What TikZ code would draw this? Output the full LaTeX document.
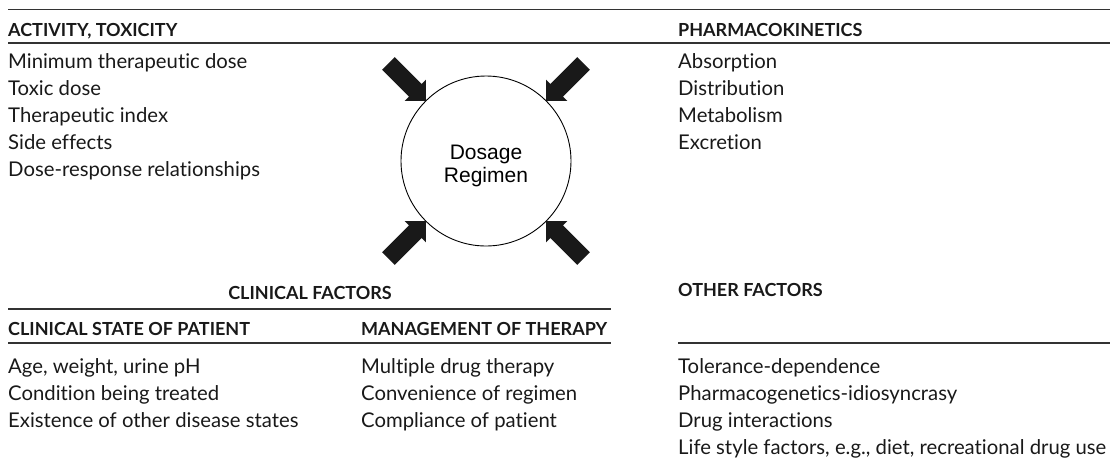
\documentclass[tikz,border=0pt]{standalone}
\usepackage{fontspec}
\setmainfont[Ligatures=NoCommon]{Lato}
\newfontfamily\helv{Liberation Sans}
\begin{document}
\begin{tikzpicture}[x=1pt,y=-1pt,
  rule/.style={line width=1.3pt, draw=black!80},
  head/.style={font=\fontsize{18}{20}\selectfont\bfseries, inner sep=0pt, anchor=base west, text=black!90},
  item/.style={font=\fontsize{20.3}{22}\selectfont, inner sep=0pt, anchor=base west, text=black!90},
  blockarrow/.style={fill=black!90, draw=none},
  hub/.style={circle, draw=black, line width=0.9pt, minimum size=170pt, inner sep=0pt},
  hublabel/.style={align=center, inner sep=0pt, font=\helv\fontsize{21}{23}\selectfont}]
\useasboundingbox (0,0) rectangle (1112,459);

% rules
\coordinate (r1a) at (8,9.5);   \coordinate (r1b) at (1110,9.5);
\coordinate (r2a) at (8,43);    \coordinate (r2b) at (1110,43);
\coordinate (r3a) at (8,309);   \coordinate (r3b) at (611,309);
\coordinate (r4a) at (8,343);   \coordinate (r4b) at (611,343);
\coordinate (r5a) at (678,343); \coordinate (r5b) at (1110,343);
\draw[rule] (r1a) -- (r1b);
\draw[rule] (r2a) -- (r2b);
\draw[rule] (r3a) -- (r3b);
\draw[rule] (r4a) -- (r4b);
\draw[rule] (r5a) -- (r5b);

% top left
\node[head] (hact) at (8,36) {ACTIVITY, TOXICITY};
\node[item] (a1) at (8,68) {Minimum therapeutic dose};
\node[item] (a2) at (8,95) {Toxic dose};
\node[item] (a3) at (8,122) {Therapeutic index};
\node[item] (a4) at (8,149) {Side effects};
\node[item] (a5) at (8,176) {Dose-response relationships};

% top right
\node[head] (hpk) at (678,36) {PHARMACOKINETICS};
\node[item] (p1) at (678,68) {Absorption};
\node[item] (p2) at (678,95) {Distribution};
\node[item] (p3) at (678,122) {Metabolism};
\node[item] (p4) at (678,149) {Excretion};

% centre
\node[hub] (c) at (486,161) {};
\node[hublabel] (clab) at (486,166) {Dosage\\Regimen};
\foreach \ang in {45,135,225,315}
  \fill[blockarrow, shift={(c.center)}, rotate=\ang]
    (85,0) -- (100,15) -- (100,9) -- (138,9) -- (138,-9) -- (100,-9) -- (100,-15) -- cycle;

% clinical factors
\node[head, anchor=base] (hcf) at (310,299) {CLINICAL FACTORS};
\node[head] (hcs) at (8,335) {CLINICAL STATE OF PATIENT};
\node[head] (hmt) at (361,335) {MANAGEMENT OF THERAPY};
\node[item] (c1) at (8,373) {Age, weight, urine pH};
\node[item] (c2) at (8,400) {Condition being treated};
\node[item] (c3) at (8,427) {Existence of other disease states};
\node[item] (m1) at (361,373) {Multiple drug therapy};
\node[item] (m2) at (361,400) {Convenience of regimen};
\node[item] (m3) at (361,427) {Compliance of patient};

% other factors
\node[head] (hof) at (678,296) {OTHER FACTORS};
\node[item] (o1) at (678,373) {Tolerance-dependence};
\node[item] (o2) at (678,400) {Pharmacogenetics-idiosyncrasy};
\node[item] (o3) at (678,427) {Drug interactions};
\node[item] (o4) at (678,454) {Life style factors, e.g., diet, recreational drug use};
\end{tikzpicture}
\end{document}
